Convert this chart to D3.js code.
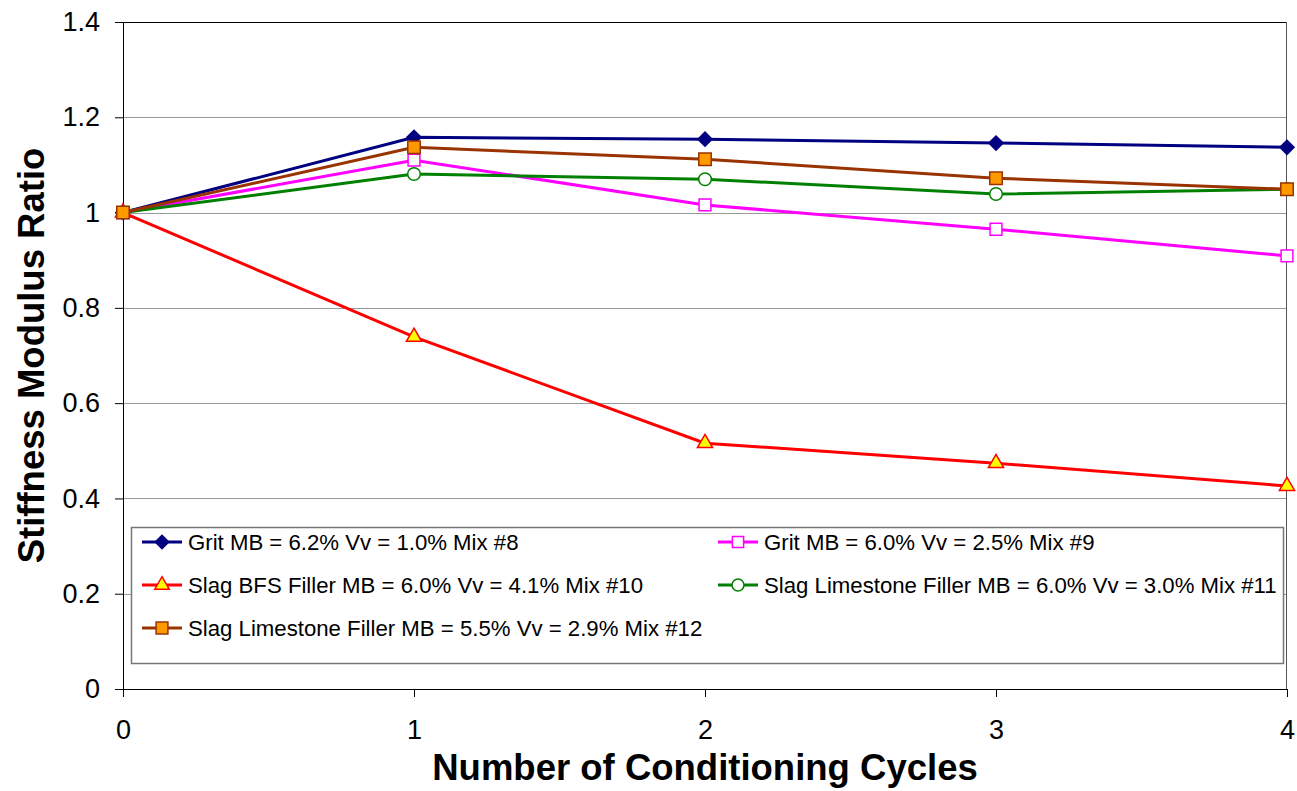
<!DOCTYPE html>
<html>
<head>
<meta charset="utf-8">
<script src="https://cdn.jsdelivr.net/npm/d3@7"></script>
<style>
  body { margin: 0; background: #fff; }
  svg { font-family: "Liberation Sans", Arial, sans-serif; }
</style>
</head>
<body>
<svg id="chart" width="1297" height="791"></svg>
<script>
// data
const cycles = [0, 1, 2, 3, 4];
const yTicks = [0, 0.2, 0.4, 0.6, 0.8, 1, 1.2, 1.4];
const seriesNames = [
  'Grit MB = 6.2% Vv = 1.0% Mix #8',
  'Grit MB = 6.0% Vv = 2.5% Mix #9',
  'Slag BFS Filler MB = 6.0% Vv = 4.1% Mix #10',
  'Slag Limestone Filler MB = 6.0% Vv = 3.0% Mix #11',
  'Slag Limestone Filler MB = 5.5% Vv = 2.9% Mix #12'
];
const mix8 = [1, 1.158, 1.154, 1.146, 1.137];
const mix9 = [1, 1.110, 1.016, 0.965, 0.909];
const mix10 = [1, 0.739, 0.516, 0.474, 0.426];
const mix11 = [1, 1.081, 1.070, 1.039, 1.049];
const mix12 = [1, 1.137, 1.112, 1.072, 1.049];

const styles = [
  { line: '#000080', fill: '#000080', stroke: '#000080', symbol: d3.symbolSquare, size: 100, rot: 45 },
  { line: '#FF00FF', fill: '#FFFFFF', stroke: '#FF00FF', symbol: d3.symbolSquare, size: 140, rot: 0 },
  { line: '#FF0000', fill: '#FFFF00', stroke: '#FF0000', symbol: d3.symbolTriangle, size: 100, rot: 0 },
  { line: '#008000', fill: '#FFFFFF', stroke: '#008000', symbol: d3.symbolCircle, size: 125, rot: 0 },
  { line: '#993300', fill: '#FF9900', stroke: '#993300', symbol: d3.symbolSquare, size: 155, rot: 0 }
];
const allSeries = [mix8, mix9, mix10, mix11, mix12].map((v, i) => ({ name: seriesNames[i], values: v, style: styles[i] }));

const svg = d3.select('#chart');
const margin = { top: 22, left: 123, right: 10, bottom: 102 };
const width = 1297 - margin.left - margin.right;
const height = 791 - margin.top - margin.bottom;

const x = d3.scaleLinear().domain([0, 4]).range([0, width]);
const y = d3.scaleLinear().domain([0, 1.4]).range([height, 0]);

const g = svg.append('g').attr('transform', `translate(${margin.left},${margin.top})`);

// gridlines
g.append('g').selectAll('line').data(yTicks.slice(1, -1)).join('line')
  .attr('x1', 0).attr('x2', width)
  .attr('y1', d => Math.round(y(d)) + 0.5).attr('y2', d => Math.round(y(d)) + 0.5)
  .attr('stroke', '#999').attr('stroke-width', 1);

// frame: top and right
g.append('line').attr('x1', 0).attr('x2', width).attr('y1', 0.5).attr('y2', 0.5).attr('stroke', '#000');
g.append('line').attr('x1', width - 0.5).attr('x2', width - 0.5).attr('y1', 0).attr('y2', height).attr('stroke', '#555');

// axes
const yAxis = g.append('g').call(d3.axisLeft(y).tickValues(yTicks).tickFormat(d3.format('')).tickSizeOuter(0).tickSize(8).tickPadding(15));
const xAxis = g.append('g').attr('transform', `translate(0,${height})`)
  .call(d3.axisBottom(x).tickValues(cycles).tickFormat(d3.format('d')).tickSizeOuter(0).tickSize(8).tickPadding(23));
[xAxis, yAxis].forEach(a => {
  a.selectAll('text').attr('font-size', 27).attr('fill', '#000').attr('font-family', '"Liberation Sans", Arial, sans-serif');
  a.selectAll('line,path').attr('stroke', '#000');
});

// legend box
const legX = 131 - margin.left, legY = 527 - margin.top;
g.append('rect').attr('x', legX + 0.5).attr('y', legY + 0.5).attr('width', 1152).attr('height', 136)
  .attr('fill', '#fff').attr('stroke', '#777').attr('stroke-width', 1.5);

// lines
const line = d3.line().x((d, i) => x(cycles[i])).y(d => y(d));
allSeries.forEach(s => {
  g.append('path').datum(s.values).attr('d', line)
    .attr('fill', 'none').attr('stroke', s.style.line).attr('stroke-width', 3);
  g.append('g').selectAll('path').data(s.values).join('path')
    .attr('transform', (d, i) => `translate(${x(cycles[i])},${y(d)}) rotate(${s.style.rot})`)
    .attr('d', d3.symbol().type(s.style.symbol).size(s.style.size))
    .attr('fill', s.style.fill).attr('stroke', s.style.stroke).attr('stroke-width', 1.5);
});

// legend entries
const legPos = [[142, 542], [718, 542], [142, 585], [718, 585], [142, 628]];
allSeries.forEach((s, i) => {
  const lg = svg.append('g').attr('transform', `translate(${legPos[i][0]},${legPos[i][1]})`);
  lg.append('line').attr('x1', 0).attr('x2', 40).attr('y1', 0).attr('y2', 0)
    .attr('stroke', s.style.line).attr('stroke-width', 3);
  lg.append('path').attr('transform', `translate(20,0) rotate(${s.style.rot})`)
    .attr('d', d3.symbol().type(s.style.symbol).size(s.style.size * 0.9))
    .attr('fill', s.style.fill).attr('stroke', s.style.stroke).attr('stroke-width', 1.5);
  lg.append('text').attr('x', 46).attr('y', 8).attr('font-size', 22.2).attr('fill', '#000').text(s.name);
});

// axis titles
svg.append('text').attr('x', margin.left + width / 2).attr('y', 780).attr('text-anchor', 'middle')
  .attr('font-size', 36.5).attr('font-weight', 'bold').text('Number of Conditioning Cycles');
svg.append('text').attr('transform', `translate(44,${margin.top + height / 2}) rotate(-90)`)
  .attr('text-anchor', 'middle').attr('font-size', 36.5).attr('font-weight', 'bold').text('Stiffness Modulus Ratio');
</script>
</body>
</html>
